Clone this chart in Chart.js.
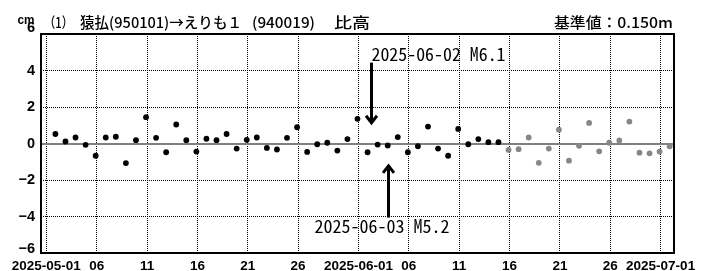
<!DOCTYPE html>
<html><head><meta charset="utf-8">
<script src="https://cdn.jsdelivr.net/npm/chart.js@4"></script>
<style>html,body{margin:0;padding:0;background:#fff;}#wrap{width:713px;height:271px;position:relative;}</style>
</head><body><div id="wrap"><canvas id="c" width="713" height="271"></canvas></div>
<script>
// ---- text ----
const unitText = "cm";
const titleParts = ["（1）", "猿払(950101)→えりも１", "(940019)", "比高"];
const baseText = "基準値：0.150m";

// ---- data (day index: 2025-05-01 = 0) ----
const firstDay = 1;            // 2025-05-02
const obsOffset = -0.1;        // observation time offset (days)
const finalValues = [0.52,0.11,0.33,-0.07,-0.67,0.33,0.37,-1.07,0.18,1.44,
  0.31,-0.48,1.04,0.18,-0.44,0.26,0.18,0.52,-0.28,0.2,
  0.33,-0.24,-0.33,0.31,0.89,-0.46,-0.04,0.04,-0.39,0.24,
  1.35,-0.48,-0.06,-0.11,0.35,-0.48,-0.15,0.93,-0.28,-0.67,
  0.8,-0.04,0.24,0.07,0.07];
const prelimValues = [-0.35,-0.31,0.33,-1.06,-0.28,0.76,-0.94,-0.13,1.13,-0.43,
  0.04,0.17,1.2,-0.5,-0.54,-0.44,-0.15];
const tickDays = [0,5,10,15,20,25,31,36,41,46,51,56,61];
const tickLabels = ["2025-05-01","06","11","16","21","26","2025-06-01","06","11","16","21","26","2025-07-01"];
const yTicks = [-6,-4,-2,0,2,4,6];
const eventLabels = ["2025-06-02 M6.1","2025-06-03 M5.2"];
const eventDays = [32.2, 33.96];

const finalPts = finalValues.map((v,i)=>({x:firstDay+i+obsOffset, y:v}));
const prelimPts = prelimValues.map((v,i)=>({x:firstDay+finalValues.length+i+obsOffset, y:v}));

function fitText(ctx, text, left, baseline, width, font){
  ctx.font = font;
  const w = ctx.measureText(text).width;
  ctx.save();
  ctx.translate(left, baseline);
  ctx.scale(width / w, 1);
  ctx.textAlign = 'left'; ctx.textBaseline = 'alphabetic';
  ctx.fillText(text, 0, 0);
  ctx.restore();
}

const decorPlugin = {
  id: 'decor',
  afterDatasetsDraw(chart){
    const ctx = chart.ctx, xs = chart.scales.x, ys = chart.scales.y;
    ctx.save();
    ctx.strokeStyle = '#000'; ctx.fillStyle = '#000';
    ctx.lineWidth = 3; ctx.lineCap = 'butt'; ctx.lineJoin = 'miter';
    // arrow spans (value units): [tail, tip]
    const spans = [[4.43, 1.08], [-4.06, -1.17]];
    const monoFont = "18px 'Noto Sans Mono CJK JP', 'DejaVu Sans Mono', monospace";
    eventDays.forEach((d, i) => {
      const x = Math.round(xs.getPixelForValue(d)) + 0.5;
      const yTail = ys.getPixelForValue(spans[i][0]);
      const yTip = ys.getPixelForValue(spans[i][1]);
      const dir = yTip > yTail ? 1 : -1;
      ctx.beginPath(); ctx.moveTo(x, yTail); ctx.lineTo(x, yTip - dir*1); ctx.stroke();
      ctx.beginPath();
      ctx.moveTo(x - 5.5, yTip - dir*8);
      ctx.lineTo(x, yTip - dir*1);
      ctx.lineTo(x + 5.5, yTip - dir*8);
      ctx.stroke();
      if (i === 0) fitText(ctx, eventLabels[i], x, yTail - 2, 134, monoFont);
      else fitText(ctx, eventLabels[i], x - 74, yTail + 15, 135, monoFont);
    });
    ctx.restore();
  },
  afterDraw(chart){
    const ctx = chart.ctx, a = chart.chartArea;
    ctx.save();
    ctx.strokeStyle = '#000'; ctx.lineWidth = 2;
    ctx.strokeRect(a.left, a.top, a.right - a.left, a.bottom - a.top);
    ctx.fillStyle = '#000';
    const tf = "500 14.5px 'Noto Sans CJK JP', sans-serif";
    fitText(ctx, titleParts[0], 44, 28, 29, tf);
    fitText(ctx, titleParts[1], 80, 28, 162, tf);
    fitText(ctx, titleParts[2], 252, 28, 63, tf);
    fitText(ctx, titleParts[3], 334, 28, 36, tf);
    fitText(ctx, baseText, 554, 28, 119, tf);
    fitText(ctx, unitText, 17.5, 24, 17, "bold 13px 'Liberation Sans Narrow', 'Liberation Sans', sans-serif");
    ctx.restore();
  }
};

const tickFont = "'Liberation Sans Narrow', 'Liberation Sans', 'DejaVu Sans Condensed', sans-serif";

new Chart(document.getElementById('c'), {
  type: 'scatter',
  data: { datasets: [
    { data: finalPts, backgroundColor: '#000', borderWidth: 0, pointRadius: 2.9, pointHoverRadius: 2.9 },
    { data: prelimPts, backgroundColor: '#878787', borderWidth: 0, pointRadius: 2.9, pointHoverRadius: 2.9 }
  ]},
  options: {
    responsive: false, animation: false, devicePixelRatio: 1, events: [],
    layout: { padding: { top: 34, right: 39, left: 0, bottom: 0 } },
    plugins: { legend: { display: false }, tooltip: { enabled: false } },
    scales: {
      x: {
        type: 'linear', min: -0.53, max: 62.33,
        afterBuildTicks: s => { s.ticks = tickDays.map(v => ({ value: v })); },
        afterFit: s => { s.height = 18; },
        grid: { color: '#000', lineWidth: 1, drawTicks: false },
        border: { display: false, dash: [1, 1] },
        ticks: { padding: 5, maxRotation: 0, minRotation: 0, autoSkip: false, color: '#000',
          font: { family: tickFont, size: 13.5, weight: 'bold', lineHeight: 1.2 },
          callback: (v, i) => tickLabels[i] }
      },
      y: {
        min: -6, max: 6,
        afterBuildTicks: s => { s.ticks = yTicks.map(v => ({ value: v })); },
        afterFit: s => { s.width = 41; },
        grid: {
          drawTicks: false,
          color: c => (c.tick && c.tick.value === 0) ? '#808080' : '#000',
          lineWidth: c => (c.tick && c.tick.value === 0) ? 2 : 1
        },
        border: { display: false, dash: c => (c.tick && c.tick.value === 0) ? [] : [1, 1] },
        ticks: { padding: 6, color: '#000',
          font: c => ({ family: tickFont, size: 14.5, weight: 'bold',
            lineHeight: (c.tick && c.tick.value === -6) ? 0.53 : 0.8 }),
          callback: v => v === 6 ? ["6", ""] : v === -6 ? ["\u22126", ""] : (v < 0 ? "\u2212" + (-v) : String(v)) }
      }
    }
  },
  plugins: [decorPlugin]
});
</script></body></html>
